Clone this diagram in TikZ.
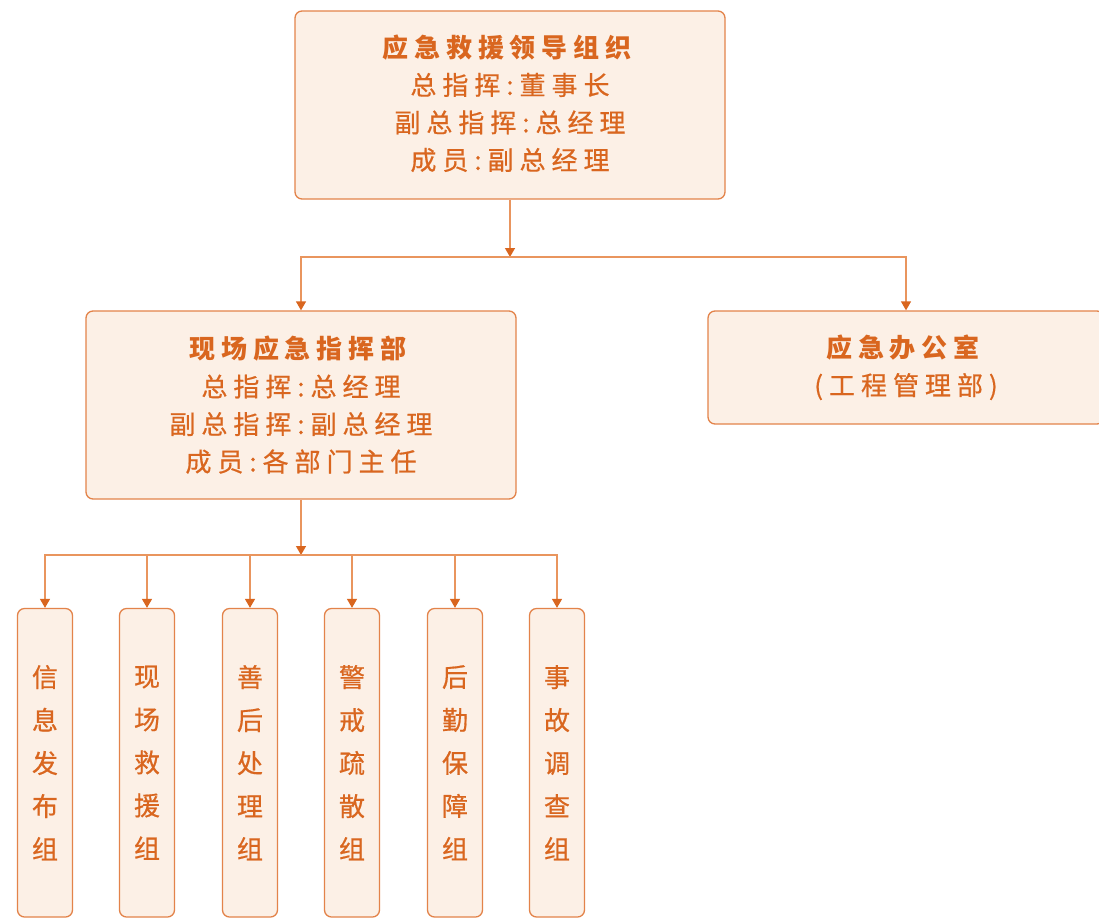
\documentclass[tikz,border=0pt]{standalone}
\usepackage{fontspec}
\newfontfamily\cjk{Noto Sans CJK SC}[LetterSpace=23, UprightFeatures={FakeBold=0.6}]
\newfontfamily\cjkv{Noto Sans CJK SC}[FakeBold=0.6]
\usetikzlibrary{arrows.meta}
\definecolor{ln}{HTML}{E9955E}
\definecolor{bd}{HTML}{E3834A}
\definecolor{tx}{HTML}{D9661F}
\definecolor{fl}{HTML}{FCF0E6}
\definecolor{ar}{HTML}{D9661F}
\tikzset{
  box/.style={draw=bd, fill=fl, rounded corners=7pt, line width=1.3pt, text=tx, align=center, inner sep=0pt,
    font={\cjk\fontsize{26}{37.5}\selectfont}},
  vbox/.style={draw=bd, fill=fl, rounded corners=7pt, line width=1.3pt, text=tx, align=center, inner sep=0pt,
    font={\cjkv\fontsize{26}{43}\selectfont}, minimum width=55pt, minimum height=308.5pt},
  conn/.style={draw=ln, line width=1.3pt},
  arr/.style={conn, -{Triangle[width=10pt,length=9pt,color=ar,fill=ar]}}
}
\begin{document}
\begin{tikzpicture}[x=1pt,y=-1pt]
\useasboundingbox (0,0) rectangle (1099,918);
\node[box, minimum width=430pt, minimum height=188pt] (top) at (510,105)
  {\textbf{应急救援领导组织}\\总指挥:董事长\\副总指挥:总经理\\成员:副总经理\\[-32pt]\mbox{}};
\node[box, minimum width=430pt, minimum height=188pt] (mid) at (301,405)
  {\textbf{现场应急指挥部}\\总指挥:总经理\\副总指挥:副总经理\\成员:各部门主任};
\node[box, minimum width=396pt, minimum height=113pt] (off) at (906,367.5)
  {\textbf{应急办公室}\\(工程管理部)};
\coordinate (h1) at (510,257);
\coordinate (h2) at (301,555);
\node[vbox] (b1) at (45,762.75) {信\\息\\发\\布\\组};
\node[vbox] (b2) at (147,762.75) {现\\场\\救\\援\\组};
\node[vbox] (b3) at (250,762.75) {善\\后\\处\\理\\组};
\node[vbox] (b4) at (352,762.75) {警\\戒\\疏\\散\\组};
\node[vbox] (b5) at (455,762.75) {后\\勤\\保\\障\\组};
\node[vbox] (b6) at (557,762.75) {事\\故\\调\\查\\组};
\draw[arr] (top.south) -- (h1);
\draw[arr] (h1) -| (mid.north);
\draw[arr] (h1) -| (off.north);
\draw[arr] (mid.south) -- (h2);
\foreach \b in {b1,b2,b3,b4,b5,b6} {
  \draw[arr] (h2) -| (\b.north);
}
\end{tikzpicture}
\end{document}
